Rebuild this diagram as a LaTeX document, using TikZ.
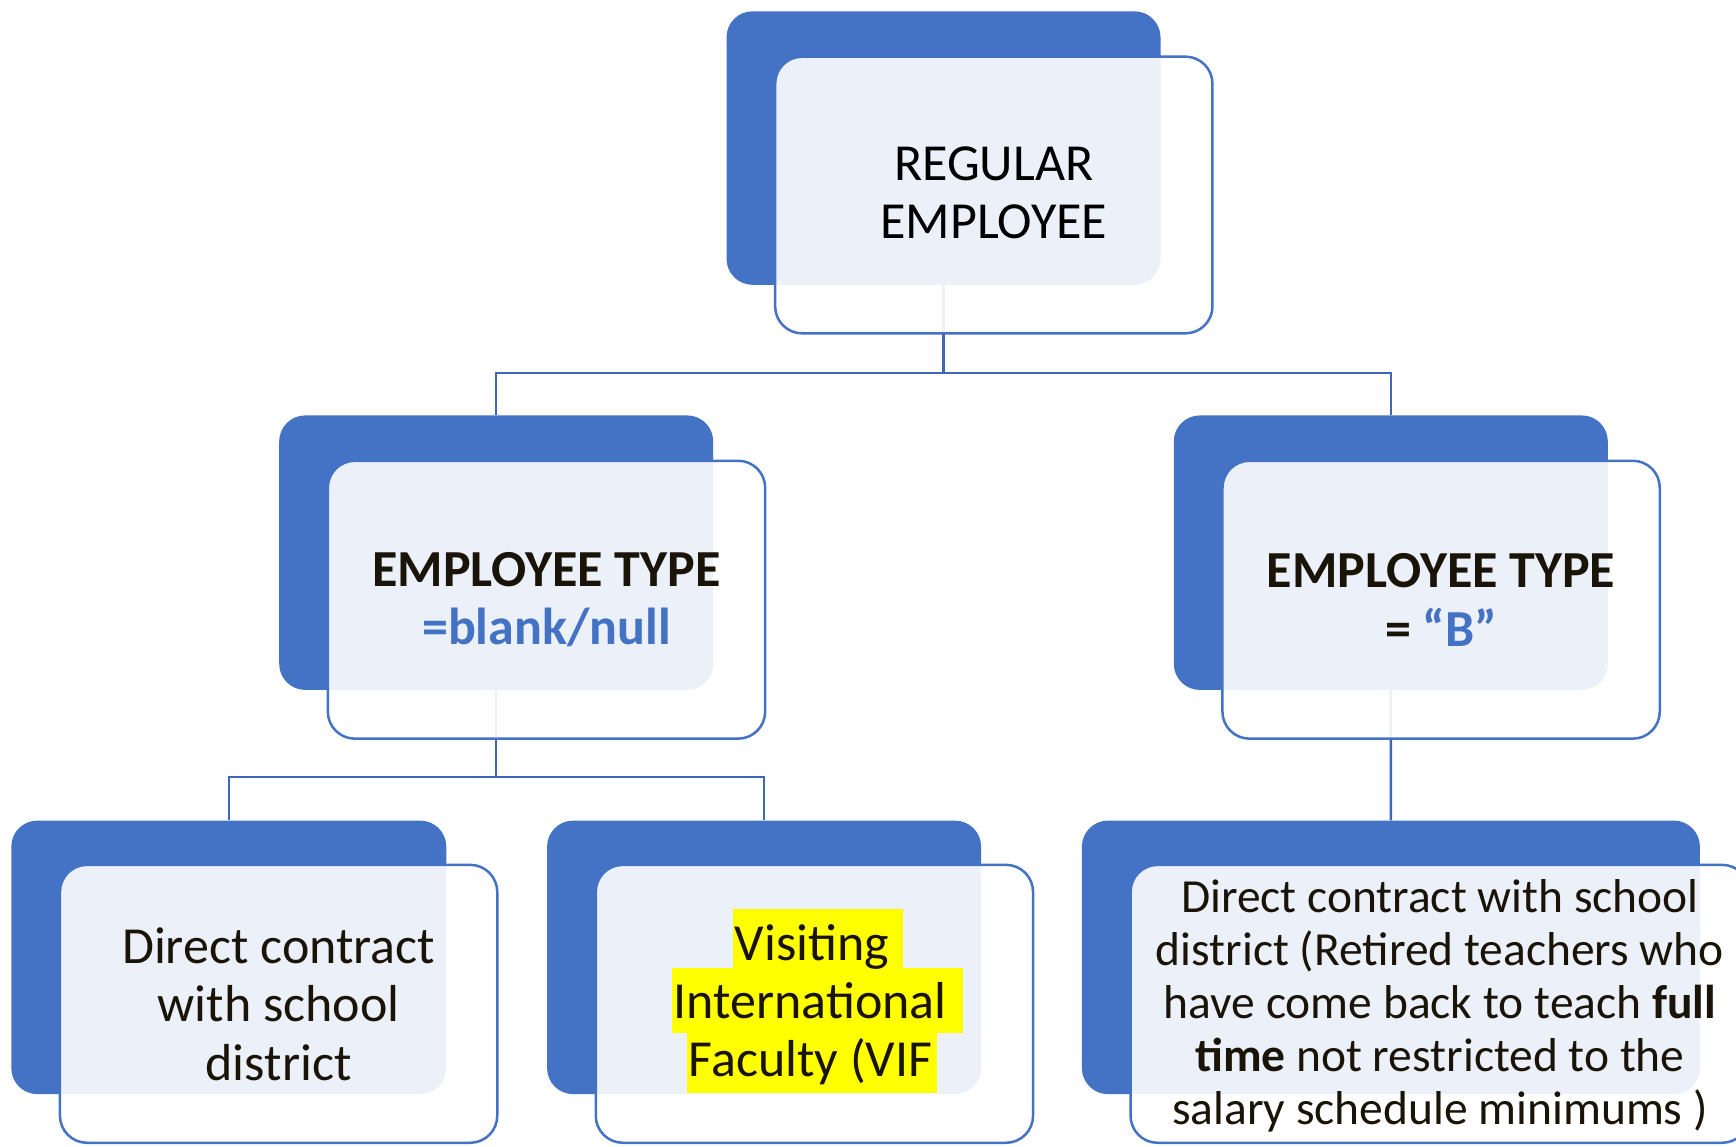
\documentclass[tikz,border=0pt]{standalone}
\usepackage{fontspec}
\setmainfont{Carlito}
\definecolor{dkblue}{HTML}{4472C4}
\definecolor{connblue}{HTML}{3F67B6}
\definecolor{txt}{HTML}{1A1408}
\definecolor{hl}{HTML}{FFFF00}
\tikzset{
  darkbox/.style={fill=dkblue, draw=none, rounded corners=26pt, inner sep=0pt, anchor=north west},
  litebox/.style={draw=dkblue, line width=2.5pt, fill=white, fill opacity=0.9, rounded corners=27pt, inner sep=0pt, anchor=north west},
  conn/.style={draw=connblue, line width=2.4pt},
  bigtxt/.style={align=center, text=txt, font=\fontsize{52}{58.5}\selectfont, inner sep=0pt},
  smalltxt/.style={align=center, text=txt, font=\fontsize{47.5}{53}\selectfont, inner sep=0pt},
  hlbox/.style={fill=hl, text=txt, font=\fontsize{52}{58.5}\selectfont, inner xsep=1.5pt, inner ysep=0pt, anchor=base west}
}
\begin{document}
\begin{tikzpicture}[x=1pt, y=-1pt]
\clip (0,0) rectangle (1736,1146);
\fill[white] (0,0) rectangle (1736,1146);
% dark boxes
\node[darkbox, minimum width=434pt, minimum height=273.5pt] (d1) at (726.3,11.1) {};
\node[darkbox, minimum width=434pt, minimum height=274.5pt] (d2) at (279,415.2) {};
\node[darkbox, minimum width=434pt, minimum height=274.5pt] (d3) at (1173.6,415.2) {};
\node[darkbox, minimum width=435pt, minimum height=273.5pt] (d4) at (11.1,820.4) {};
\node[darkbox, minimum width=434pt, minimum height=273.5pt] (d5) at (546.9,820.4) {};
\node[darkbox, minimum width=618pt, minimum height=273.5pt] (d6) at (1081.7,820.4) {};
% connectors (drawn before the light boxes, so they show faintly through them)
\coordinate (bus1) at (943,373);
\coordinate (bus2) at (496,777);
\draw[conn] (d1.south) -- (d1.south |- bus1) -| (d2.north);
\draw[conn] (d1.south |- bus1) -| (d3.north);
\draw[conn] (d2.south) -- (d2.south |- bus2) -| (d4.north);
\draw[conn] (d2.south |- bus2) -| (d5.north);
\draw[conn] (d3.south) -- (d6.north);
% light boxes
\node[litebox, minimum width=437.3pt, minimum height=276.7pt] (l1) at (773.9,55.4) {};
\node[litebox, minimum width=437.3pt, minimum height=277.9pt] (l2) at (326.6,459.5) {};
\node[litebox, minimum width=437.3pt, minimum height=277.9pt] (l3) at (1221.2,459.5) {};
\node[litebox, minimum width=437.3pt, minimum height=277.9pt] (l4) at (58.7,863.6) {};
\node[litebox, minimum width=437.3pt, minimum height=277.9pt] (l5) at (594.5,863.6) {};
\node[litebox, minimum width=618.7pt, minimum height=277.9pt] (l6) at (1129.3,863.6) {};
% texts
\node[bigtxt, text=black] (t1) at ([yshift=2pt]l1.center) {REGULAR\\EMPLOYEE};
\node[bigtxt] (t2) at (l2.center) {\textbf{EMPLOYEE TYPE}\\\textbf{\textcolor{dkblue}{=blank/null}}};
\node[bigtxt] (t3) at (l3.center) {\textbf{EMPLOYEE TYPE}\\\textbf{= \textcolor{dkblue}{“B”}}};
\node[bigtxt] (t4) at (l4.center) {Direct contract\\with school\\district};
\node[smalltxt] (t6) at ([yshift=-2pt]l6.center) {Direct contract with school\\district (Retired teachers who\\have come back to teach \textbf{full}\\\textbf{time} not restricted to the\\salary schedule minimums )};
% highlighted lines
\node[hlbox, text height=50pt, text depth=15pt] (h2) at (672,1018) {International\hspace*{15pt}};
\node[hlbox, text height=43pt, text depth=17pt] (h3) at (687,1076) {Faculty (VIF\hspace*{3pt}};
\node[hlbox, text height=51pt, text depth=8pt] (h1) at (733,960) {Visiting\hspace*{12pt}};
\end{tikzpicture}
\end{document}
